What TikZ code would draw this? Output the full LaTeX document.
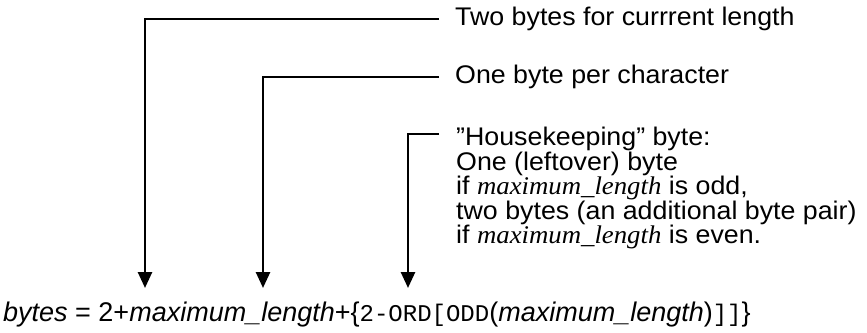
\documentclass[tikz,border=0pt]{standalone}
\usepackage{fontspec}
\setmainfont{Liberation Sans}
\setmonofont{Liberation Mono}
\newfontfamily\lblsans{Liberation Sans}[FakeStretch=1.05]
\newfontfamily\serifit{Liberation Serif Italic}[FakeStretch=1.05]
\usetikzlibrary{arrows.meta}
\newcommand\monofmt[1]{{\fontsize{24}{24}\selectfont\ttfamily #1}}
\newcommand\tightlines{\lineskiplimit=-50pt\relax}
\begin{document}
\begin{tikzpicture}[x=1pt,y=-1pt,
  conn/.style={line width=2.6pt, line join=miter, -{Triangle[length=16pt,width=14pt]}},
  lbl/.style={anchor=west, inner sep=0pt, font=\fontsize{25.5}{24.5}\selectfont\lblsans}]
\useasboundingbox (0,0) rectangle (867,332);
\node[lbl] (t1) at (455,19) {Two bytes for currrent length};
\node[lbl] (t2) at (455,77) {One byte per character};
\node[anchor=north west, inner sep=0pt, align=left,
      font={\fontsize{25.5}{24.5}\selectfont\lblsans\tightlines}] (t3) at (456,127)
  {”Housekeeping” byte:\\
   One (leftover) byte\\
   if {\serifit maximum\_length} is odd,\\
   two bytes (an additional byte pair)\\
   if {\serifit maximum\_length} is even.};
\node[anchor=base west, inner sep=0pt, font=\fontsize{27}{27}\selectfont] (f) at (3,321)
  {\textit{bytes} = 2+\textit{maximum\_length}+\{\monofmt{2-ORD[ODD}(\textit{maximum\_length})\monofmt{]]}\}};
\coordinate (a1) at (145,288);
\coordinate (a2) at (263,288);
\coordinate (a3) at (408,288);
\coordinate (h3) at (439,134);
\draw[conn] ([xshift=-16pt]t1.west) -| (a1);
\draw[conn] ([xshift=-16pt]t2.west) -| (a2);
\draw[conn] (h3) -| (a3);
\end{tikzpicture}
\end{document}
